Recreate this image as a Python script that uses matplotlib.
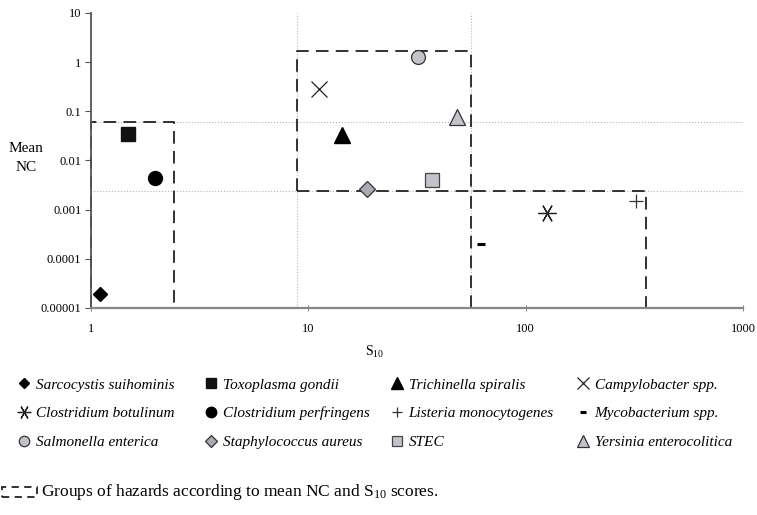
import matplotlib
matplotlib.use('Agg')
import matplotlib.pyplot as plt
from matplotlib.lines import Line2D
from matplotlib.patches import Rectangle

plt.rcParams['font.family'] = ['Liberation Serif', 'DejaVu Serif']
plt.rcParams['mathtext.fontset'] = 'custom'
plt.rcParams['mathtext.rm'] = 'Liberation Serif'
plt.rcParams['mathtext.it'] = 'Liberation Serif:italic'

# Hazards (S10 score, mean NC)
hazards = ['Sarcocystis suihominis', 'Toxoplasma gondii', 'Trichinella spiralis',
           'Campylobacter spp.', 'Clostridium botulinum', 'Clostridium perfringens',
           'Listeria monocytogenes', 'Mycobacterium spp.', 'Salmonella enterica',
           'Staphylococcus aureus', 'STEC', 'Yersinia enterocolitica']
s10 = [1.1, 1.48, 14.3, 11.2, 125, 1.97, 322, 62.3, 32, 18.6, 37.1, 48.3]
mean_nc = [1.9e-5, 0.035, 0.033, 0.277, 0.00086, 0.0044, 0.0015, 0.0002,
           1.25, 0.0026, 0.0040, 0.078]

# mean reference lines
s10_means = [8.87, 56.1]
nc_means = [0.0616, 0.00241]

# group boxes: (x0, x1, y0, y1)
groups = [(1, 2.41, 1e-5, 0.0616),
          (8.87, 56.1, 0.00241, 1.65),
          (56.1, 358, 1e-5, 0.00241)]

gray = '#c2c3c9'
styles = {
    'Sarcocystis suihominis': dict(marker='D', ms=7, mfc='black', mec='black'),
    'Toxoplasma gondii': dict(marker='s', ms=10, mfc='#111111', mec='#111111'),
    'Trichinella spiralis': dict(marker='^', ms=11, mfc='black', mec='black'),
    'Campylobacter spp.': dict(marker='x', ms=11, mfc='none', mec='#222222', mew=0.9),
    'Clostridium botulinum': dict(marker=(6, 2, 90), ms=13, mfc='none', mec='#222222', mew=0.9),
    'Clostridium perfringens': dict(marker='o', ms=10, mfc='black', mec='black'),
    'Listeria monocytogenes': dict(marker='+', ms=10, mfc='none', mec='#333333', mew=0.9),
    'Mycobacterium spp.': dict(marker='_', ms=6, mfc='none', mec='black', mew=2.2),
    'Salmonella enterica': dict(marker='o', ms=10, mfc=gray, mec='#333333', mew=0.9),
    'Staphylococcus aureus': dict(marker='D', ms=8, mfc='#a9aab2', mec='#333333', mew=0.9),
    'STEC': dict(marker='s', ms=10, mfc=gray, mec='#444444', mew=0.9),
    'Yersinia enterocolitica': dict(marker='^', ms=11, mfc=gray, mec='#333333', mew=0.9),
}

fig = plt.figure(figsize=(7.57, 5.15), dpi=100)
ax = fig.add_axes([0.1202, 0.402, 0.8613, 0.573])
ax.set_xscale('log')
ax.set_yscale('log')
ax.set_xlim(1, 1000)
ax.set_ylim(1e-5, 10)

for v in s10_means:
    ax.axvline(v, color='#b5b5b5', lw=0.8, ls=':', zorder=1)
for v in nc_means:
    ax.axhline(v, color='#b5b5b5', lw=0.8, ls=':', zorder=1)

dash = (0, (7, 4))
for x0, x1, y0, y1 in groups:
    ax.plot([x0, x0, x1, x1, x0], [y0, y1, y1, y0, y0], color='#222222',
            lw=1.3, ls=dash, zorder=2, clip_on=False)

for name, x, y in zip(hazards, s10, mean_nc):
    st = styles[name]
    ax.plot([x], [y], ls='none', zorder=3, clip_on=False, **st)

for side in ['top', 'right']:
    ax.spines[side].set_visible(False)
ax.spines['left'].set_color('#555555')
ax.spines['bottom'].set_color('#888888')
ax.spines['left'].set_linewidth(1.3)
ax.spines['bottom'].set_linewidth(1.6)

ax.set_yticks([1e-5, 1e-4, 1e-3, 1e-2, 0.1, 1, 10])
ax.set_yticklabels(['0.00001', '0.0001', '0.001', '0.01', '0.1', '1', '10'])
ax.set_xticks([1, 10, 100, 1000])
ax.set_xticklabels(['1', '10', '100', '1000'])
ax.minorticks_off()
ax.tick_params(axis='y', direction='out', length=4, color='#555555', labelsize=9, pad=3)
ax.tick_params(axis='x', direction='inout', length=5, color='#888888', labelsize=9, pad=8)

fig.text(26 / 757, 1 - 158 / 515, 'Mean\nNC', ha='center', va='center',
         fontsize=11, linespacing=1.6)
fig.text(375 / 757, 1 - 352 / 515, 'S$_{10}$', ha='center', va='center', fontsize=10)

# legend, four columns placed by hand
col_x = [18, 205, 391, 577]
rows = [hazards[0:4], hazards[4:8], hazards[8:12]]
for c in range(4):
    names = [r[c] for r in rows]
    handles = []
    for n in names:
        st = dict(styles[n])
        st['ms'] = st['ms'] * 0.75
        handles.append(Line2D([], [], ls='none', **st))
    fig.legend(handles, names, loc='upper left',
               bbox_to_anchor=(col_x[c] / 757, 1 - 378 / 515),
               frameon=False, handlelength=0.8, handletextpad=0.35,
               labelspacing=0.98, borderpad=0, borderaxespad=0,
               prop={'family': 'Liberation Serif', 'style': 'italic', 'size': 11})

fig.add_artist(Rectangle((2 / 757, 1 - 497 / 515), 35 / 757, 10 / 515,
                         transform=fig.transFigure, fill=False, ec='#222222',
                         lw=1.3, ls=(0, (4, 3))))
fig.text(41 / 757, 1 - 492 / 515,
         'Groups of hazards according to mean NC and S$_{10}$ scores.',
         ha='left', va='center', fontsize=12.5)

fig.savefig('out.png', dpi=100)
